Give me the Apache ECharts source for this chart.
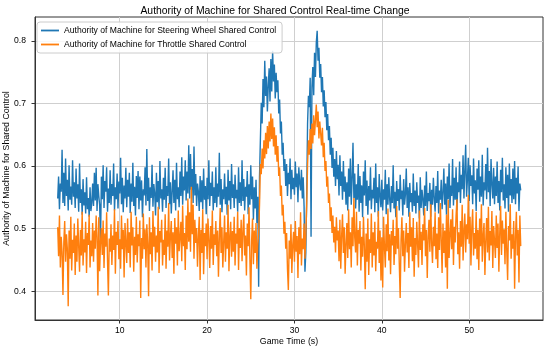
<!DOCTYPE html>
<html><head><meta charset="utf-8">
<script src="https://cdn.jsdelivr.net/npm/echarts@6/dist/echarts.min.js"></script>
<style>html,body{margin:0;padding:0;background:#fff}#c{width:550px;height:352px}</style>
</head><body><div id="c"></div><script>
const titleText = 'Authority of Machine for Shared Control Real-time Change';
const xAxisName = 'Game Time (s)';
const yAxisName = 'Authority of Machine for Shared Control';
const seriesNames = ['Authority of Machine for Steering Wheel Shared Control', 'Authority of Machine for Throttle Shared Control'];
const timeStart = 2.9, timeStep = 0.1;
const xTicks = [10, 20, 30, 40, 50];
const yTicks = [0.4, 0.5, 0.6, 0.7, 0.8];

const steering = [
0.548,0.583,0.531,0.572,0.559,0.626,0.541,0.589,0.536,0.612,0.552,
0.578,0.529,0.601,0.546,0.567,0.538,0.609,0.551,0.574,0.533,
0.596,0.548,0.571,0.527,0.604,0.541,0.563,0.522,0.579,0.537,
0.558,0.524,0.582,0.531,0.549,0.519,0.566,0.528,0.541,0.572,
0.536,0.589,0.545,0.597,0.528,0.571,0.552,0.538,0.478,0.583,
0.547,0.601,0.533,0.576,0.559,0.598,0.527,0.564,0.541,0.593,
0.538,0.571,0.552,0.604,0.529,0.566,0.547,0.588,0.532,0.575,
0.556,0.613,0.539,0.581,0.526,0.569,0.548,0.597,0.534,0.578,
0.551,0.589,0.525,0.572,0.543,0.605,0.536,0.567,0.521,0.584,
0.549,0.592,0.531,0.583,0.545,0.577,0.518,0.563,0.553,0.598,
0.537,0.627,0.544,0.581,0.528,0.566,0.549,0.602,0.535,0.571,
0.556,0.521,0.589,0.542,0.576,0.531,0.608,0.548,0.563,0.527,
0.581,0.546,0.597,0.533,0.568,0.552,0.612,0.539,0.574,0.524,
0.559,0.593,0.541,0.578,0.529,0.605,0.547,0.566,0.534,0.591,
0.552,0.614,0.538,0.583,0.561,0.609,0.545,0.591,0.556,0.633,
0.548,0.619,0.562,0.595,0.541,0.631,0.553,0.587,0.536,0.572,
0.559,0.528,0.584,0.542,0.577,0.531,0.596,0.546,0.568,0.523,
0.581,0.547,0.609,0.536,0.573,0.552,0.591,0.529,0.566,0.541,
0.598,0.534,0.572,0.551,0.621,0.538,0.579,0.526,0.563,0.547,
0.588,0.539,0.567,0.522,0.594,0.545,0.576,0.531,0.603,0.549,
0.571,0.533,0.586,0.548,0.562,0.527,0.598,0.541,0.574,0.536,
0.609,0.544,0.579,0.529,0.567,0.551,0.592,0.523,0.571,0.538,
0.601,0.547,0.583,0.514,0.566,0.532,0.578,0.509,0.551,0.407,
0.583,0.642,0.701,0.668,0.739,0.694,0.768,0.712,0.743,0.687,
0.728,0.756,0.703,0.771,0.719,0.784,0.735,0.762,0.708,0.749,
0.718,0.737,0.684,0.706,0.652,0.671,0.618,0.637,0.592,0.611,
0.568,0.603,0.552,0.589,0.571,0.612,0.547,0.594,0.563,0.581,
0.554,0.607,0.566,0.588,0.542,0.598,0.573,0.561,0.594,0.548,
0.582,0.536,0.431,0.462,0.553,0.668,0.712,0.694,0.741,0.487,
0.726,0.758,0.713,0.781,0.742,0.797,0.816,0.768,0.789,0.741,
0.763,0.718,0.742,0.695,0.721,0.678,0.702,0.657,0.683,0.641,
0.664,0.618,0.645,0.597,0.629,0.583,0.611,0.568,0.624,0.579,
0.602,0.553,0.617,0.568,0.591,0.546,0.608,0.559,0.583,0.538,
0.574,0.529,0.596,0.551,0.612,0.538,0.581,0.637,0.549,0.588,
0.532,0.571,0.546,0.603,0.527,0.584,0.541,0.569,0.518,0.591,
0.553,0.609,0.536,0.577,0.522,0.568,0.545,0.598,0.531,0.562,
0.548,0.581,0.526,0.604,0.541,0.566,0.519,0.587,0.552,0.534,
0.578,0.529,0.563,0.546,0.594,0.523,0.571,0.538,0.582,0.547,
0.526,0.568,0.541,0.601,0.532,0.559,0.518,0.576,0.544,0.563,
0.529,0.586,0.547,0.561,0.521,0.579,0.538,0.554,0.596,0.533,
0.566,0.519,0.573,0.542,0.557,0.527,0.588,0.536,0.561,0.524,
0.574,0.541,0.553,0.516,0.582,0.533,0.562,0.547,0.521,0.569,
0.536,0.591,0.528,0.557,0.544,0.573,0.519,0.562,0.538,0.581,
0.549,0.527,0.568,0.541,0.592,0.524,0.561,0.546,0.578,0.531,
0.557,0.596,0.538,0.572,0.522,0.583,0.547,0.604,0.533,0.569,
0.552,0.611,0.537,0.581,0.546,0.598,0.529,0.574,0.558,0.607,
0.541,0.586,0.563,0.617,0.548,0.592,0.634,0.551,0.579,0.613,
0.544,0.601,0.568,0.585,0.539,0.612,0.556,0.577,0.528,0.596,
0.562,0.609,0.543,0.583,0.551,0.618,0.537,0.574,0.561,0.603,
0.547,0.629,0.558,0.592,0.536,0.611,0.571,0.548,0.597,0.539,
0.583,0.552,0.607,0.541,0.576,0.529,0.594,0.558,0.613,0.545,
0.571,0.532,0.598,0.549,0.586,0.527,0.604,0.553,0.579,0.541,
0.596,0.547,0.608,0.539,0.581,0.556,0.599,0.528,0.572,0.561
];

const throttle = [
0.502,0.456,0.521,0.438,0.487,0.463,0.394,0.478,0.512,0.447,0.491,
0.468,0.376,0.497,0.452,0.519,0.433,0.482,0.461,0.508,0.426,
0.489,0.447,0.516,0.472,0.431,0.498,0.457,0.527,0.441,0.483,
0.462,0.511,0.429,0.493,0.474,0.522,0.438,0.481,0.456,0.509,
0.447,0.497,0.468,0.521,0.486,0.393,0.518,0.432,0.479,0.501,
0.458,0.513,0.437,0.492,0.471,0.526,0.449,0.393,0.484,0.463,
0.507,0.442,0.489,0.466,0.531,0.428,0.495,0.474,0.512,0.451,
0.483,0.436,0.521,0.467,0.498,0.422,0.509,0.478,0.445,0.516,
0.461,0.494,0.438,0.527,0.473,0.502,0.431,0.487,0.458,0.519,
0.446,0.491,0.472,0.513,0.389,0.485,0.452,0.524,0.467,0.499,
0.438,0.507,0.476,0.392,0.518,0.459,0.494,0.433,0.528,0.471,
0.503,0.447,0.489,0.462,0.535,0.429,0.496,0.478,0.514,0.441,
0.482,0.458,0.523,0.436,0.497,0.471,0.541,0.449,0.488,0.512,
0.453,0.494,0.428,0.517,0.476,0.502,0.441,0.529,0.464,0.486,
0.511,0.448,0.537,0.472,0.493,0.434,0.521,0.467,0.548,0.479,
0.526,0.463,0.567,0.491,0.538,0.452,0.514,0.477,0.501,0.439,
0.487,0.519,0.418,0.498,0.461,0.531,0.427,0.493,0.472,0.508,
0.451,0.516,0.483,0.437,0.504,0.468,0.529,0.442,0.491,0.474,
0.512,0.456,0.497,0.423,0.486,0.533,0.461,0.502,0.438,0.479,
0.521,0.447,0.494,0.468,0.538,0.432,0.487,0.511,0.455,0.496,
0.463,0.519,0.441,0.492,0.476,0.527,0.434,0.501,0.469,0.514,
0.448,0.496,0.523,0.457,0.489,0.425,0.508,0.472,0.534,0.451,
0.387,0.482,0.516,0.443,0.497,0.461,0.509,0.436,0.474,0.492,
0.538,0.603,0.587,0.628,0.596,0.641,0.612,0.653,0.619,0.664,
0.628,0.671,0.639,0.684,0.643,0.676,0.631,0.662,0.618,0.649,
0.607,0.632,0.584,0.598,0.552,0.569,0.521,0.538,0.492,0.511,
0.468,0.493,0.436,0.402,0.481,0.452,0.507,0.429,0.473,0.495,
0.447,0.512,0.463,0.488,0.421,0.502,0.459,0.526,0.441,0.484,
0.467,0.508,0.452,0.491,0.536,0.602,0.641,0.618,0.659,0.627,
0.668,0.636,0.681,0.649,0.673,0.698,0.662,0.687,0.644,0.671,
0.652,0.633,0.661,0.614,0.637,0.592,0.608,0.567,0.583,0.541,
0.556,0.512,0.534,0.493,0.521,0.478,0.503,0.462,0.518,0.481,
0.497,0.448,0.514,0.436,0.489,0.523,0.461,0.502,0.428,0.476,
0.509,0.453,0.531,0.467,0.494,0.438,0.518,0.472,0.549,0.486,
0.462,0.527,0.441,0.498,0.476,0.512,0.433,0.487,0.455,0.519,
0.471,0.403,0.492,0.447,0.516,0.426,0.483,0.461,0.524,0.438,
0.494,0.457,0.511,0.432,0.479,0.468,0.528,0.445,0.497,0.417,
0.486,0.406,0.519,0.471,0.438,0.507,0.464,0.532,0.449,0.491,
0.427,0.496,0.473,0.514,0.442,0.488,0.459,0.536,0.468,0.501,
0.444,0.389,0.482,0.518,0.456,0.497,0.431,0.476,0.509,0.462,
0.493,0.437,0.526,0.471,0.502,0.448,0.517,0.423,0.485,0.458,
0.511,0.474,0.438,0.529,0.466,0.495,0.442,0.507,0.481,0.533,
0.456,0.498,0.421,0.487,0.514,0.463,0.539,0.477,0.445,0.503,
0.472,0.526,0.451,0.492,0.437,0.518,0.466,0.541,0.483,0.429,
0.508,0.461,0.497,0.438,0.522,0.404,0.546,0.453,0.489,0.515,
0.467,0.531,0.442,0.503,0.478,0.521,0.547,0.459,0.494,0.436,
0.512,0.471,0.538,0.449,0.496,0.524,0.462,0.507,0.483,0.554,
0.476,0.519,0.441,0.502,0.531,0.457,0.493,0.468,0.527,0.451,
0.498,0.434,0.516,0.472,0.539,0.447,0.489,0.509,0.426,0.481,
0.517,0.462,0.535,0.449,0.496,0.473,0.528,0.437,0.504,0.481,
0.453,0.521,0.469,0.508,0.431,0.494,0.536,0.458,0.513,0.476,
0.499,0.443,0.527,0.466,0.418,0.504,0.481,0.539,0.452,0.491,
0.468,0.512,0.404,0.486,0.527,0.457,0.498,0.414,0.521,0.472
];

const toPairs = arr => arr.map((v, i) => [Math.round((timeStart + i * timeStep) * 100) / 100, v]);
const FONT = '"Liberation Sans", Arial, sans-serif';
const chart = echarts.init(document.getElementById('c'), null, {renderer: 'canvas'});
chart.setOption({
  animation: false,
  backgroundColor: '#ffffff',
  title: {
    text: titleText, left: 'center', top: 1,
    textStyle: {fontFamily: FONT, fontSize: 10.4, fontWeight: 'normal', color: '#000'}
  },
  grid: {left: 35, right: 7, top: 17, bottom: 32, containLabel: false, outerBoundsMode: 'none',
    show: true, borderColor: '#333', borderWidth: 1, backgroundColor: 'transparent'},
  legend: {
    orient: 'vertical', left: 37, top: 22,
    padding: [3, 6, 3, 4], itemGap: 3, itemWidth: 18, itemHeight: 1.8, icon: 'rect',
    backgroundColor: 'rgba(255,255,255,0.85)', borderColor: '#cccccc', borderWidth: 1, borderRadius: 3,
    textStyle: {fontFamily: FONT, fontSize: 8.6, color: '#000', lineHeight: 11},
    data: seriesNames
  },
  xAxis: {
    type: 'value', min: 0.3, max: 58.45,
    name: xAxisName, nameLocation: 'middle', nameGap: 17, nameMoveOverlap: false,
    nameTextStyle: {fontFamily: FONT, fontSize: 8.8, color: '#000'},
    axisLine: {show: true, lineStyle: {color: '#333', width: 1}},
    axisTick: {show: true, inside: false, length: 3.5, customValues: xTicks, lineStyle: {color: '#333'}},
    axisLabel: {customValues: xTicks, margin: 6, fontFamily: FONT, fontSize: 8.6, color: '#000'},
    splitLine: {show: true, lineStyle: {color: '#cfcfcf', width: 1}}
  },
  yAxis: {
    type: 'value', min: 0.354, max: 0.838,
    name: yAxisName, nameLocation: 'middle', nameGap: 24, nameRotate: 90, nameMoveOverlap: false,
    nameTextStyle: {fontFamily: FONT, fontSize: 8.8, color: '#000'},
    axisLine: {show: true, lineStyle: {color: '#333', width: 1}},
    axisTick: {show: true, inside: false, length: 3.5, customValues: yTicks, lineStyle: {color: '#333'}},
    axisLabel: {customValues: yTicks, margin: 9, fontFamily: FONT, fontSize: 8.6, color: '#000',
      formatter: v => Number(v).toFixed(1)},
    splitLine: {show: true, lineStyle: {color: '#cfcfcf', width: 1}}
  },
  series: [
    {name: seriesNames[0], type: 'line', data: toPairs(steering), symbol: 'none', sampling: 'none',
      lineStyle: {color: '#1f77b4', width: 1.4}, itemStyle: {color: '#1f77b4'}},
    {name: seriesNames[1], type: 'line', data: toPairs(throttle), symbol: 'none', sampling: 'none',
      lineStyle: {color: '#ff7f0e', width: 1.4}, itemStyle: {color: '#ff7f0e'}}
  ]
});
</script></body></html>
